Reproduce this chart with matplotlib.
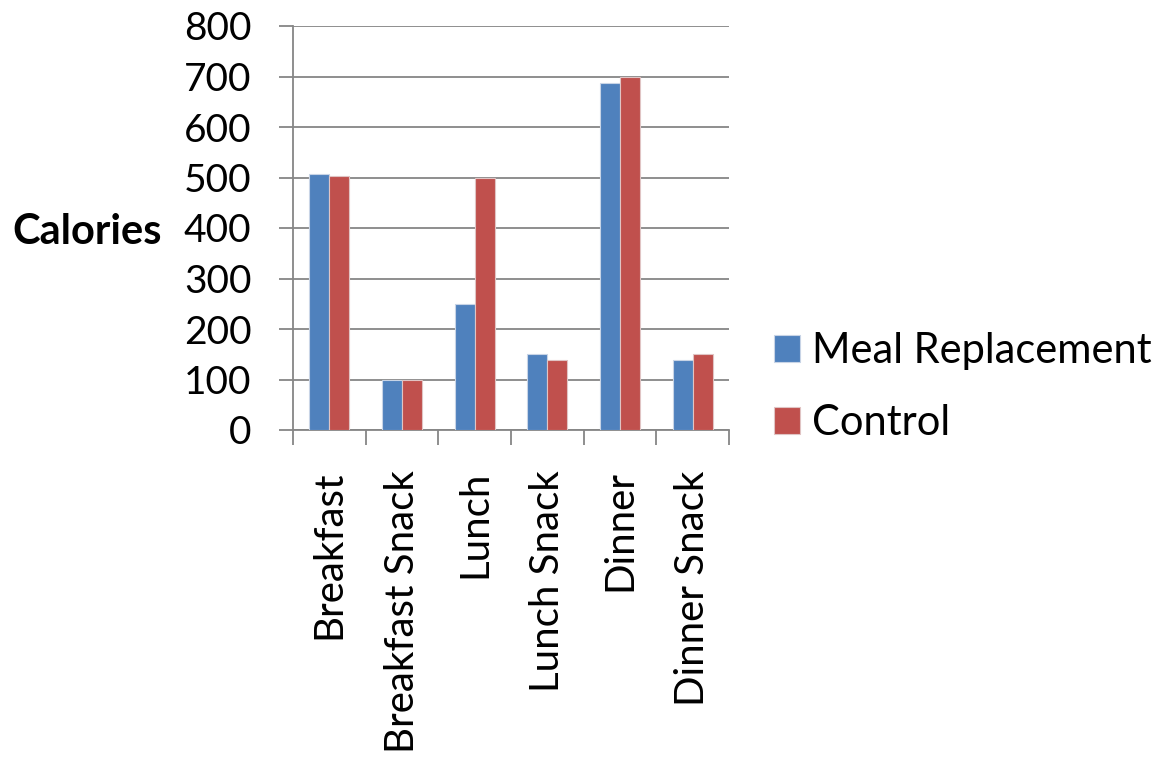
import matplotlib
matplotlib.use("Agg")
import matplotlib.pyplot as plt
import numpy as np

categories = ["Breakfast", "Breakfast Snack", "Lunch", "Lunch Snack", "Dinner", "Dinner Snack"]
meal_replacement = [507, 100, 250, 150, 688, 138]
control = [503, 100, 500, 138, 700, 150]
series_names = ["Meal Replacement", "Control"]
yticks = [0, 100, 200, 300, 400, 500, 600, 700, 800]

plt.rcParams['font.family'] = ['Lato', 'DejaVu Sans']
FS_TICK = 28
FS = 30
FS_CAT = 29

fig = plt.figure(figsize=(11.64, 7.57), dpi=100)
ax = fig.add_axes([293/1164, 1-430/757, (729-293)/1164, (430-26)/757])

x = np.arange(len(categories))
w = 0.275
grid_c = "#868686"
ax.bar(x - w/2, meal_replacement, w, color="#4F81BD", edgecolor="#c8d4e6", linewidth=0.8,
       label=series_names[0], zorder=3)
ax.bar(x + w/2, control, w, color="#C0504D", edgecolor="#e0c4c4", linewidth=0.8,
       label=series_names[1], zorder=3)

ax.set_xlim(-0.5, len(categories) - 0.5)
ax.set_ylim(0, 800)
ax.set_yticks(yticks)
ax.set_yticklabels([str(v) for v in yticks], fontsize=FS_TICK)
ax.yaxis.grid(True, color=grid_c, linewidth=1.3, zorder=0)
ax.set_axisbelow(True)

ax.set_xticks(np.arange(len(categories) + 1) - 0.5, minor=False)
ax.set_xticklabels([])
ax.set_xticks(x, minor=True)
ax.set_xticklabels(categories, minor=True, rotation=90, fontsize=FS_CAT, va='top', ha='center')
ax.tick_params(axis='x', which='major', length=11, color=grid_c, width=1.3, direction='out')
ax.tick_params(axis='x', which='minor', length=0, pad=29)
ax.tick_params(axis='y', length=10, color=grid_c, width=1.3, pad=20)

for s in ['top', 'right']:
    ax.spines[s].set_visible(False)
for s in ['left', 'bottom']:
    ax.spines[s].set_color(grid_c)
    ax.spines[s].set_linewidth(1.3)

fig.text(12/1164, 1-232/757, "Calories", fontsize=FS, fontweight='bold', va='center', ha='left')

ax.legend(loc='center left', bbox_to_anchor=(774/1164, 1-387/757), bbox_transform=fig.transFigure,
          frameon=False, fontsize=FS, handlelength=0.62, handleheight=0.62, handletextpad=0.3,
          labelspacing=0.8, borderpad=0, borderaxespad=0)

fig.savefig("out.png", dpi=100, facecolor='white')
